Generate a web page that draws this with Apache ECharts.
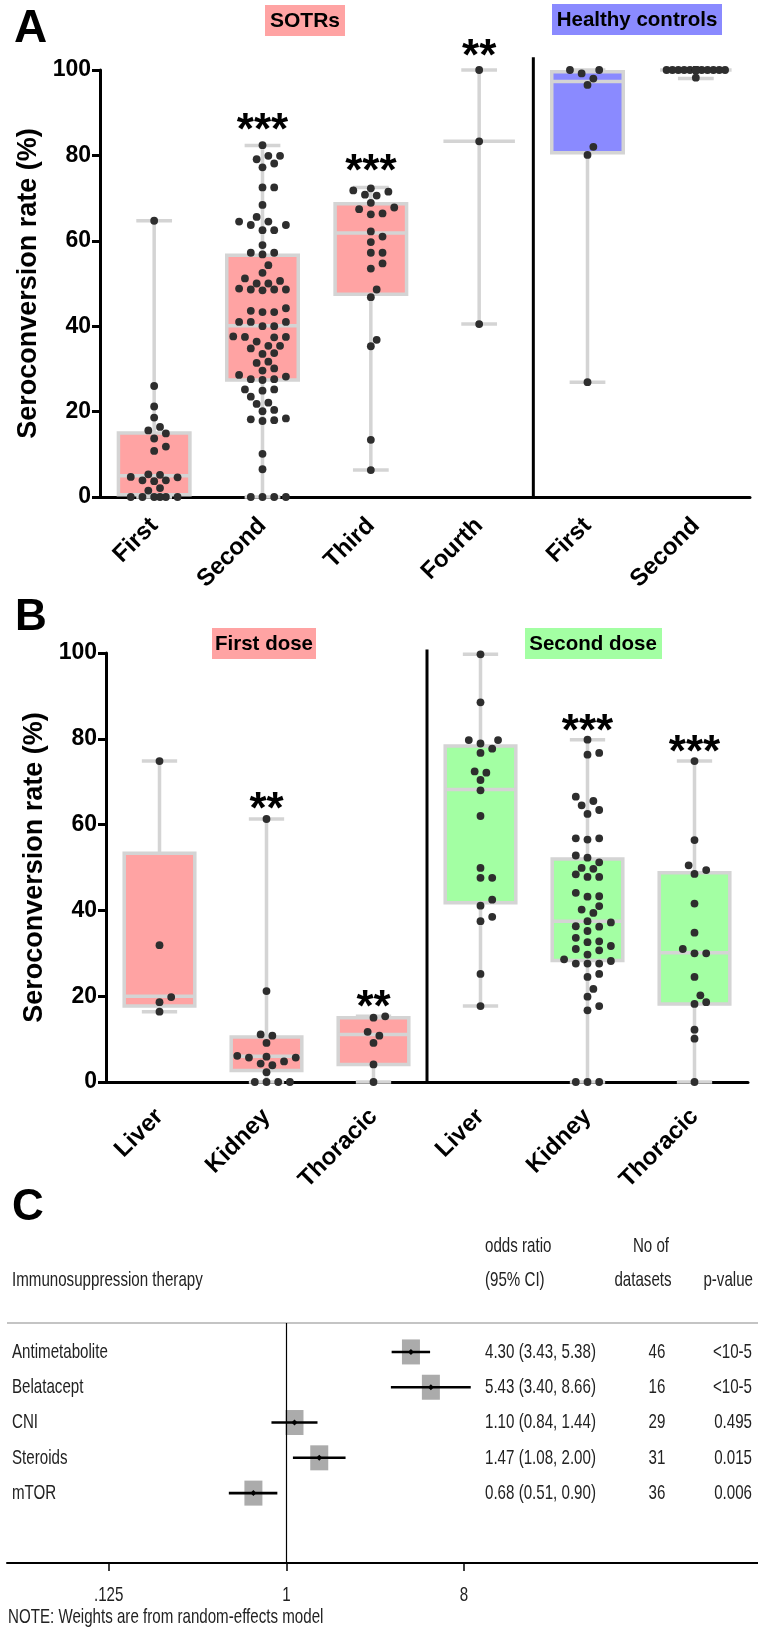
<!DOCTYPE html>
<html><head><meta charset="utf-8">
<script src="https://cdn.jsdelivr.net/npm/echarts@6/dist/echarts.min.js"></script>
<style>html,body{margin:0;padding:0;background:#fff}#c{width:758px;height:1635px}</style>
</head><body><div id="c"></div>
<script>
// ---------------- Panel A data ----------------
const aCategories = ['First', 'Second', 'Third', 'Fourth', 'First', 'Second'];
const aGroupLabels = ['SOTRs', 'Healthy controls'];
const aSotrFirst = [64.7, 26.0, 21.2, 18.6, 16.4, 15.6, 14.9, 13.7, 11.8, 10.8, 5.3, 4.7, 3.9, 3.7, 3.9, 4.6, 5.2, 2.1, 1.5, 0, 0, 0, 0, 0, 0];
const aSotrSecond = [82.4, 79.9, 79.9, 79.1, 78.1, 77.2, 72.5, 72.5, 68.4, 65.6, 64.5, 64.5, 63.7, 63.7, 62.5, 62.5, 59.0, 57.2, 57.2, 56.8, 54.3, 52.5, 51.2, 50.6, 50.0, 50.0, 48.6, 48.6, 48.4, 48.6, 48.8, 44.2, 43.6, 43.3, 43.3, 41.0, 41.0, 41.0, 40.0, 40.0, 37.5, 37.6, 37.5, 37.4, 36.4, 35.4, 35.4, 34.8, 33.7, 33.5, 31.7, 31.4, 30.1, 29.6, 28.6, 28.2, 27.6, 27.6, 27.4, 25.2, 25.2, 24.9, 23.5, 22.1, 21.8, 20.4, 20.1, 18.4, 18.2, 18.0, 17.8, 10.1, 6.5, 0, 0, 0, 0];
const aSotrThird = [72.3, 71.8, 71.5, 70.8, 70.6, 68.9, 67.8, 67.4, 66.4, 66.2, 62.2, 61.0, 59.7, 57.2, 57.2, 54.7, 53.5, 48.6, 46.8, 36.8, 35.3, 13.4, 6.3];
const aSotrFourth = [100, 83.3, 40.5];
const aHcFirst = [100, 100, 99.2, 98.0, 96.5, 82.0, 80.1, 26.9];
const aHcSecond = [100, 100, 100, 100, 100, 100, 100, 100, 100, 100, 100, 100, 100, 100, 100, 100, 100, 100, 100, 100, 98.2];
// box statistics
const aBoxMin = [0, 0, 6.3, 40.5, 26.9, 98.0];
const aBoxQ1 = [0.5, 27.4, 47.5, 83.3, 80.6, 100];
const aBoxMedian = [5.0, 40.1, 61.8, 83.3, 97.3, 100];
const aBoxQ3 = [15.0, 56.6, 68.7, 83.3, 99.6, 100];
const aBoxMax = [64.7, 82.3, 72.5, 100, 100, 100];
const aSignif = ['', '***', '***', '**', '', ''];

// ---------------- Panel B data ----------------
const bCategories = ['Liver', 'Kidney', 'Thoracic', 'Liver', 'Kidney', 'Thoracic'];
const bGroupLabels = ['First dose', 'Second dose'];
const bLiver1 = [74.8, 31.9, 19.8, 18.6, 16.4];
const bKidney1 = [61.3, 21.2, 11.1, 10.8, 9.1, 6.1, 5.9, 5.7, 5.7, 4.8, 4.3, 3.9, 2.3, 0, 0, 0, 0];
const bThoracic1 = [15.3, 15.0, 11.7, 10.8, 9.1, 4.1, 0];
const bLiver2 = [99.7, 88.5, 79.7, 79.7, 78.9, 77.7, 76.7, 72.4, 72.1, 70.4, 68.0, 62.0, 49.9, 47.6, 47.6, 42.5, 41.1, 38.5, 37.5, 25.2, 17.7];
const bKidney2 = [79.8, 76.7, 76.3, 66.5, 65.5, 64.5, 63.4, 62.5, 56.8, 56.5, 56.8, 52.8, 52.3, 51.2, 49.9, 49.7, 48.4, 47.8, 47.8, 44.1, 43.3, 43.2, 41.0, 40.2, 39.4, 37.5, 37.2, 36.2, 36.3, 35.2, 33.6, 32.6, 32.8, 31.7, 31.0, 30.7, 29.7, 28.6, 28.2, 27.6, 27.6, 27.6, 25.2, 24.5, 21.7, 19.9, 17.7, 16.7, 0, 0, 0];
const bThoracic2 = [74.8, 56.4, 50.5, 49.4, 48.5, 41.6, 34.8, 31.0, 30.0, 30.0, 24.5, 20.2, 18.6, 18.2, 12.2, 10.1, 0];
const bBoxMin = [16.4, 0, 0, 17.7, 0, 0];
const bBoxQ1 = [17.7, 2.7, 4.1, 41.8, 28.3, 18.2];
const bBoxMedian = [20.0, 6.0, 11.1, 68.2, 37.5, 30.1];
const bBoxQ3 = [53.3, 10.5, 15.0, 78.3, 52.0, 48.8];
const bBoxMax = [74.8, 61.3, 15.3, 99.7, 79.8, 74.8];
const bSignif = ['', '**', '**', '', '***', '***'];

// ---------------- Panel C data ----------------
const cTherapies = ['Antimetabolite', 'Belatacept', 'CNI', 'Steroids', 'mTOR'];
const cOddsRatio = [4.30, 5.43, 1.10, 1.47, 0.68];
const cLower = [3.43, 3.40, 0.84, 1.08, 0.51];
const cUpper = [5.38, 8.66, 1.44, 2.00, 0.90];
const cDatasets = [46, 16, 29, 31, 36];
const cPValues = ['<10-5', '<10-5', '0.495', '0.015', '0.006'];
const cTickValues = [0.125, 1, 8];
const cTickLabels = ['.125', '1', '8'];

// ---------------- styles ----------------
const PINK = '#FFA3A3', BLUE = '#8A8AFF', GREEN = '#A3FFA3';
const GREYLINE = '#D4D4D4', DOT = '#2e2e2e';
const ARIAL = '"Liberation Sans", Arial, sans-serif';
const CFONT = '21px "Liberation Sans", Arial, sans-serif';
const CSX = 0.72; // horizontal squeeze to mimic the narrow font of panel C
const C_ROW0 = 0.82; // first row sits 0.82 row-heights below the header rule

function boxData(mn, q1, md, q3, mx) {
  return mn.map((v, i) => [i, v, q1[i], md[i], q3[i], mx[i]]);
}
function boxRender(colors) {
  return function (params, api) {
    const i = api.value(0);
    const band = api.size([1, 0])[0];
    const boxW = band * 0.66, capW = band * 0.33;
    const pMin = api.coord([i, api.value(1)]);
    const pQ1 = api.coord([i, api.value(2)]);
    const pMed = api.coord([i, api.value(3)]);
    const pQ3 = api.coord([i, api.value(4)]);
    const pMax = api.coord([i, api.value(5)]);
    const x = pMed[0];
    const ls = { stroke: GREYLINE, lineWidth: 3.5 };
    const kids = [
      { type: 'line', shape: { x1: x, y1: pMin[1], x2: x, y2: pMax[1] }, style: ls },
      { type: 'line', shape: { x1: x - capW / 2, y1: pMin[1], x2: x + capW / 2, y2: pMin[1] }, style: ls },
      { type: 'line', shape: { x1: x - capW / 2, y1: pMax[1], x2: x + capW / 2, y2: pMax[1] }, style: ls }
    ];
    const h = pQ1[1] - pQ3[1];
    if (h > 0.5) {
      kids.push({ type: 'rect', shape: { x: x - boxW / 2, y: pQ3[1], width: boxW, height: h },
        style: { fill: colors[i], stroke: GREYLINE, lineWidth: 3.5 } });
    }
    kids.push({ type: 'line', shape: { x1: x - boxW / 2, y1: pMed[1], x2: x + boxW / 2, y2: pMed[1] }, style: ls });
    return { type: 'group', children: kids };
  };
}
function dotData(groups) {
  const out = [];
  groups.forEach((g, gi) => g.forEach((v, k) => out.push([gi, v, k])));
  return out;
}
function swarmRender(groups) {
  const cache = {};
  return function (params, api) {
    const g = api.value(0), k = api.value(2);
    if (!cache[g]) {
      const vals = groups[g];
      const pts = vals.map((v, idx) => ({ idx, y: api.coord([g, v])[1] }));
      pts.sort((a, b) => b.y - a.y);
      const step = 5.85, D = 8.6, maxK = 5;
      const cands = [0];
      for (let s = 1; s <= maxK; s++) cands.push(s * step, -s * step);
      const placed = [], offs = new Array(vals.length);
      pts.forEach(p => {
        let best = 0, bestScore = -1;
        for (const cx of cands) {
          let mind = Infinity;
          for (const q of placed) { const d = Math.hypot(cx - q.x, p.y - q.y); if (d < mind) mind = d; }
          if (mind >= D) { best = cx; bestScore = Infinity; break; }
          if (mind > bestScore + 0.01) { bestScore = mind; best = cx; }
        }
        placed.push({ x: best, y: p.y });
        offs[p.idx] = best;
      });
      cache[g] = offs;
    }
    const pt = api.coord([g, api.value(1)]);
    return { type: 'circle', shape: { cx: pt[0] + cache[g][k], cy: pt[1], r: 3.9 }, style: { fill: DOT } };
  };
}
function annotRender(signif, heights, divAfter, divTop) {
  return function (params, api) {
    const i = api.value(0);
    const kids = [];
    if (i === divAfter) {
      const t1 = api.coord([i, divTop]), t2 = api.coord([i + 1, divTop]), b = api.coord([i, 0]);
      const xm = (t1[0] + t2[0]) / 2;
      kids.push({ type: 'line', shape: { x1: xm, y1: t1[1], x2: xm, y2: b[1] }, style: { stroke: '#000', lineWidth: 3 } });
    }
    if (signif[i]) {
      const p = api.coord([i, heights[i]]);
      kids.push({ type: 'text', x: p[0], y: p[1], style: { text: signif[i], fill: '#000', font: 'bold 44px ' + ARIAL, align: 'center', verticalAlign: 'middle' } });
    }
    return { type: 'group', children: kids };
  };
}

const aStarHeight = [0, 85.5, 76.0, 102.8, 0, 0];
const bStarHeight = [0, 63.3, 17.1, 0, 81.5, 76.5];

const aColors = [PINK, PINK, PINK, PINK, BLUE, BLUE];
const bColors = [PINK, PINK, PINK, GREEN, GREEN, GREEN];
const aGroups = [aSotrFirst, aSotrSecond, aSotrThird, aSotrFourth, aHcFirst, aHcSecond];
const bGroups = [bLiver1, bKidney1, bThoracic1, bLiver2, bKidney2, bThoracic2];

function catAxis(gi, cats, margin) {
  return {
    type: 'category', gridIndex: gi, data: cats, boundaryGap: true,
    axisLine: { lineStyle: { color: '#000', width: 3 } },
    axisTick: { alignWithLabel: true, length: 8, lineStyle: { color: '#000', width: 3 } },
    axisLabel: { rotate: 45, interval: 0, margin: margin, color: '#000', fontWeight: 'bold', fontSize: 24, fontFamily: ARIAL },
    splitLine: { show: false }
  };
}
function valAxis(gi) {
  return {
    type: 'value', gridIndex: gi, min: 0, max: 100, interval: 20,
    name: 'Seroconversion rate (%)', nameLocation: 'middle', nameRotate: 90, nameGap: 57,
    nameTextStyle: { fontWeight: 'bold', fontSize: 27, color: '#000', fontFamily: ARIAL },
    axisLine: { show: true, lineStyle: { color: '#000', width: 3 } },
    axisTick: { show: true, length: 8, lineStyle: { color: '#000', width: 3 } },
    axisLabel: { margin: 9, color: '#000', fontWeight: 'bold', fontSize: 23, fontFamily: ARIAL },
    splitLine: { show: false }
  };
}
function cText(x, y, text, align) {
  return { type: 'text', x: x, y: y, scaleX: CSX, style: { text: text, font: CFONT, fill: '#222', align: align || 'left', verticalAlign: 'middle' } };
}

const chart = echarts.init(document.getElementById('c'), null, { renderer: 'canvas' });
const cRows = cTherapies.map((t, i) => [i + C_ROW0, cOddsRatio[i], cLower[i], cUpper[i]]);

chart.setOption({
  animation: false,
  backgroundColor: '#fff',
  grid: [
    { left: 100, top: 70, width: 650, height: 427 },
    { left: 106, top: 653, width: 642, height: 429 },
    { left: 7, top: 1323, width: 751, height: 240 }
  ],
  xAxis: [
    catAxis(0, aCategories, 25),
    catAxis(1, bCategories, 31),
    {
      type: 'log', logBase: 2, gridIndex: 2, min: 0.038, max: 250, position: 'bottom',
      axisLine: { onZero: false, lineStyle: { color: '#000', width: 2 } },
      axisTick: { customValues: cTickValues, length: 8, lineStyle: { color: '#000', width: 1.5 } },
      axisLabel: { show: false },
      splitLine: { show: false }, minorTick: { show: false }
    }
  ],
  yAxis: [
    valAxis(0), valAxis(1),
    { type: 'value', gridIndex: 2, min: 0, max: 6.8, inverse: true, show: false }
  ],
  graphic: [
    { type: 'text', x: 14, y: 6, style: { text: 'A', font: 'bold 46px ' + ARIAL, fill: '#000' } },
    { type: 'text', x: 15, y: 596, style: { text: 'B', font: 'bold 44px ' + ARIAL, fill: '#000' } },
    { type: 'text', x: 12, y: 1186, style: { text: 'C', font: 'bold 44px ' + ARIAL, fill: '#000' } },
    { type: 'rect', shape: { x: 265, y: 5, width: 80, height: 31 }, style: { fill: PINK } },
    { type: 'text', x: 305, y: 21, style: { text: aGroupLabels[0], font: 'bold 21px ' + ARIAL, fill: '#000', align: 'center', verticalAlign: 'middle' } },
    { type: 'rect', shape: { x: 552, y: 4, width: 170, height: 31 }, style: { fill: BLUE } },
    { type: 'text', x: 637, y: 20, style: { text: aGroupLabels[1], font: 'bold 20.5px ' + ARIAL, fill: '#000', align: 'center', verticalAlign: 'middle' } },
    { type: 'rect', shape: { x: 212, y: 628, width: 104, height: 31 }, style: { fill: PINK } },
    { type: 'text', x: 264, y: 644, style: { text: bGroupLabels[0], font: 'bold 20.5px ' + ARIAL, fill: '#000', align: 'center', verticalAlign: 'middle' } },
    { type: 'rect', shape: { x: 525, y: 628, width: 137, height: 31 }, style: { fill: GREEN } },
    { type: 'text', x: 593, y: 644, style: { text: bGroupLabels[1], font: 'bold 20.5px ' + ARIAL, fill: '#000', align: 'center', verticalAlign: 'middle' } },
    // panel C headers
    cText(485, 1246, 'odds ratio'),
    cText(485, 1280, '(95% CI)'),
    cText(651, 1246, 'No of', 'center'),
    cText(643, 1280, 'datasets', 'center'),
    cText(753, 1280, 'p-value', 'right'),
    cText(12, 1280, 'Immunosuppression therapy'),
    { type: 'line', shape: { x1: 7, y1: 1323, x2: 758, y2: 1323 }, style: { stroke: '#c4c4c4', lineWidth: 2 } },
    cText(8, 1617, 'NOTE: Weights are from random-effects model')
  ],
  series: [
    { type: 'custom', xAxisIndex: 0, yAxisIndex: 0, clip: false, renderItem: boxRender(aColors),
      encode: { x: 0, y: 3 }, data: boxData(aBoxMin, aBoxQ1, aBoxMedian, aBoxQ3, aBoxMax) },
    { type: 'custom', xAxisIndex: 0, yAxisIndex: 0, clip: false, renderItem: swarmRender(aGroups),
      encode: { x: 0, y: 1 }, data: dotData(aGroups) },
    { type: 'custom', xAxisIndex: 0, yAxisIndex: 0, clip: false, renderItem: annotRender(aSignif, aStarHeight, 3, 103),
      encode: { x: 0, y: 1 }, data: aCategories.map((c, i) => [i, 0]) },
    { type: 'custom', xAxisIndex: 1, yAxisIndex: 1, clip: false, renderItem: boxRender(bColors),
      encode: { x: 0, y: 3 }, data: boxData(bBoxMin, bBoxQ1, bBoxMedian, bBoxQ3, bBoxMax) },
    { type: 'custom', xAxisIndex: 1, yAxisIndex: 1, clip: false, renderItem: swarmRender(bGroups),
      encode: { x: 0, y: 1 }, data: dotData(bGroups) },
    { type: 'custom', xAxisIndex: 1, yAxisIndex: 1, clip: false, renderItem: annotRender(bSignif, bStarHeight, 2, 100.8),
      encode: { x: 0, y: 1 }, data: bCategories.map((c, i) => [i, 0]) },
    { type: 'custom', xAxisIndex: 2, yAxisIndex: 2, clip: false,
      encode: { x: 1, y: 0 }, data: cRows,
      markLine: { silent: true, symbol: 'none', label: { show: false },
        lineStyle: { color: '#000', width: 1.2, type: 'solid' }, data: [{ xAxis: 1 }] },
      renderItem: function (params, api) {
        const r = api.value(0);
        const pe = api.coord([api.value(1), r]);
        const pl = api.coord([api.value(2), r]);
        const ph = api.coord([api.value(3), r]);
        const y = pe[1];
        const i = params.dataIndex;
        const orText = cOddsRatio[i].toFixed(2) + ' (' + cLower[i].toFixed(2) + ', ' + cUpper[i].toFixed(2) + ')';
        return { type: 'group', children: [
          { type: 'rect', shape: { x: pe[0] - 9, y: y - 12.5, width: 18, height: 25 }, style: { fill: '#ababab' } },
          { type: 'line', shape: { x1: pl[0], y1: y, x2: ph[0], y2: y }, style: { stroke: '#000', lineWidth: 2.6 } },
          { type: 'polygon', shape: { points: [[pe[0] - 3, y], [pe[0], y - 3], [pe[0] + 3, y], [pe[0], y + 3]] }, style: { fill: '#000' } },
          cText(12, y, cTherapies[i]),
          cText(485, y, orText),
          cText(657, y, String(cDatasets[i]), 'center'),
          cText(752, y, cPValues[i], 'right')
        ] };
      }
    },
    { type: 'custom', xAxisIndex: 2, yAxisIndex: 2, clip: false,
      encode: { x: 0, y: 1 }, data: cTickValues.map((v, i) => [v, 6.8, i]),
      renderItem: function (params, api) {
        const p = api.coord([api.value(0), api.value(1)]);
        return cText(p[0], p[1] + 32, cTickLabels[api.value(2)], 'center');
      }
    }
  ]
});
</script></body></html>
